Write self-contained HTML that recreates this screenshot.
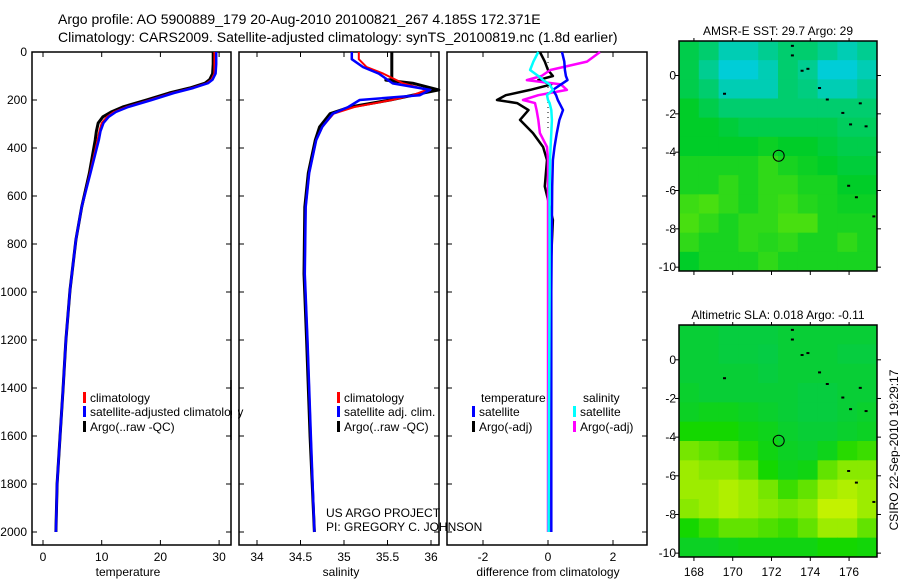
<!DOCTYPE html>
<html><head><meta charset="utf-8"><style>
body{margin:0;background:#fff;width:900px;height:580px;overflow:hidden}
svg text{font-family:"Liberation Sans",sans-serif;font-size:12px;fill:#000}
</style></head><body>
<svg id="s" width="900" height="580" xmlns="http://www.w3.org/2000/svg">
<text x="58" y="24" style="font-size:14px">Argo profile: AO 5900889_179 20-Aug-2010 20100821_267 4.185S 172.371E</text>
<text x="58" y="42" style="font-size:14px">Climatology: CARS2009. Satellite-adjusted climatology: synTS_20100819.nc (1.8d earlier)</text>
<g id="g"></g>
</svg>
<script>
// ---------- data ----------
const tDepth=[0,50,90,115,130,150,171,200,229,250,270,296,330,367,504,646,783,992,1200,1408,1604,1800,2000];
const tArgo=[29.0,29.0,28.9,28.4,27.6,25.0,21.5,17.6,13.6,11.6,10.2,9.4,9.1,8.9,7.9,6.6,5.6,4.6,3.9,3.4,2.9,2.4,2.2];
const tClim=[29.2,29.2,29.2,28.7,27.9,25.4,22.0,18.2,14.2,12.1,10.9,10.0,9.6,9.3,8.0,6.6,5.6,4.6,3.9,3.4,2.9,2.4,2.2];
const tSat=[29.5,29.5,29.4,28.9,28.1,25.6,22.3,18.5,14.5,12.4,11.2,10.3,9.8,9.5,8.1,6.6,5.6,4.6,3.9,3.4,2.9,2.4,2.2];
const sArgoDepth=[0,88,115,117,130,158,171,200,229,257,312,367,504,646,925,1200,1604,2000];
const sArgo=[35.55,35.55,35.55,35.48,35.79,36.09,35.91,35.53,35.07,34.84,34.72,34.67,34.59,34.55,34.54,34.57,34.61,34.66];
const sDepth=[0,30,63,90,131,158,180,200,229,257,312,367,504,646,925,1200,1604,2000];
const sClim=[35.17,35.17,35.26,35.45,35.68,35.95,35.79,35.55,35.12,34.88,34.75,34.68,34.60,34.56,34.55,34.58,34.62,34.66];
const sSat=[35.09,35.09,35.22,35.40,35.56,35.99,35.87,35.18,35.05,34.87,34.75,34.68,34.60,34.56,34.55,34.58,34.62,34.66];
const dDepth=[0,40,75,100,117,135,158,180,200,213,242,283,338,396,450,560,700,1000,1500,2000];
const dTArgo=[-0.25,-0.1,0,0.15,-0.3,0.1,-0.55,-1.3,-1.57,-0.95,-0.6,-0.86,-0.46,-0.15,-0.03,-0.1,0.15,0.05,0.03,0.02];
const dSArgo=[1.6,1.2,0.07,-0.2,-0.65,0.4,0.58,-0.3,-0.77,-0.4,-0.35,-0.3,-0.25,-0.03,0,0,0,0,0,0];
const dTSat=[0.43,0.5,0.52,0.55,0.6,0.4,0.15,0.25,0.3,0.35,0.46,0.35,0.27,0.2,0.15,0.13,0.12,0.1,0.1,0.1];
const dSSat=[-0.3,-0.45,-0.55,-0.3,-0.15,0.05,0.15,-0.03,0.0,0.05,0.1,0.12,0.1,0.08,0.06,0.05,0.05,0.05,0.03,0.02];
const depthTicks=[0,200,400,600,800,1000,1200,1400,1600,1800,2000];
const tTicks=[0,10,20,30];
const sTicks=[34,34.5,35,35.5,36];
const sTickLabels=["34","34.5","35","35.5","36"];
const dTicks=[-2,0,2];
const latTicks=[0,-2,-4,-6,-8,-10];
const lonTicks=[168,170,172,174,176];
const sstGrid=[
[.4,.3,.1,.1,.2,.3,.3,.2,.1,.2],
[.4,.2,.0,.0,.1,.3,.2,.0,.0,.1],
[.4,.3,.1,.1,.1,.3,.25,.1,.1,.2],
[.5,.4,.3,.3,.3,.3,.3,.3,.3,.3],
[.5,.5,.45,.4,.4,.4,.4,.4,.35,.35],
[.5,.5,.5,.5,.55,.5,.5,.45,.4,.4],
[.6,.6,.6,.6,.7,.6,.55,.5,.45,.45],
[.6,.6,.7,.6,.7,.7,.6,.6,.5,.5],
[.75,.8,.7,.6,.7,.75,.65,.6,.55,.55],
[.8,.7,.6,.7,.7,.8,.8,.6,.6,.6],
[.7,.6,.6,.7,.65,.7,.6,.6,.7,.6],
[.5,.6,.6,.6,.7,.6,.6,.6,.6,.6]];
const slaGrid=[
[.2,.2,.15,.15,.15,.2,.2,.2,.2,.2],
[.2,.2,.15,.15,.12,.2,.2,.2,.15,.15],
[.2,.2,.2,.2,.15,.2,.2,.2,.2,.2],
[.25,.2,.2,.2,.2,.2,.15,.15,.2,.2],
[.3,.35,.35,.3,.25,.2,.15,.15,.2,.25],
[.5,.5,.5,.4,.35,.25,.2,.2,.25,.3],
[.75,.7,.65,.55,.4,.3,.25,.35,.55,.6],
[.85,.8,.8,.7,.5,.35,.4,.7,.8,.8],
[.85,.85,.9,.85,.75,.6,.7,.85,.9,.85],
[.8,.85,.9,.85,.8,.75,.8,.95,.95,.85],
[.5,.6,.7,.7,.65,.6,.7,.85,.85,.7],
[.3,.3,.35,.4,.4,.4,.4,.5,.5,.45]];
// ---------- helpers ----------
const NS="http://www.w3.org/2000/svg";const G=document.getElementById('g');
function mk(t,a,p){const e=document.createElementNS(NS,t);for(const k in a)e.setAttribute(k,a[k]);(p||G).appendChild(e);return e;}
const yD=d=>52+d*0.24;
const xT=v=>43+v*5.87, xS=v=>257+(v-34)*87, xDf=v=>548+v*32.5;
function frame(x0,x1,name){const r=mk('rect',{x:x0,y:52,width:x1-x0,height:493,fill:'none',stroke:'#000','stroke-width':1.5});

}
function line(xs,ds,fx,col,w,name,dash){let p=xs.map((v,i)=>(i?'L':'M')+fx(v).toFixed(1)+' '+yD(ds[i]).toFixed(1)).join('');
const e=mk('path',{d:p,fill:'none',stroke:col,'stroke-width':w,'stroke-linejoin':'round'});if(dash)e.setAttribute('stroke-dasharray',dash);

}
function txt(x,y,s,name,anchor,extra){const e=mk('text',Object.assign({x:x,y:y,'text-anchor':anchor||'start'},extra||{}));e.textContent=s;

return e;}
function xticks(x0,x1,ticks,labels,fx,label,lx){ticks.forEach((t,i)=>{const x=fx(t);mk('line',{x1:x,x2:x,y1:52,y2:57,stroke:'#000'});mk('line',{x1:x,x2:x,y1:545,y2:540,stroke:'#000'});
txt(x,561,labels[i],'x-tick-label','middle');});txt(lx,576,label,'x-axis-title','middle');}
function yticks(x0,x1,lab){depthTicks.forEach(d=>{const y=yD(d);mk('line',{x1:x0,x2:x0+5,y1:y,y2:y,stroke:'#000'});mk('line',{x1:x1,x2:x1-5,y1:y,y2:y,stroke:'#000'});
if(lab)txt(27,y+4,String(d),'y-tick-label','end');});}
// ---------- panel 1 ----------
frame(32,231,'temperature-panel');yticks(32,231,true);
xticks(32,231,tTicks,tTicks.map(String),xT,'temperature',128);
line(tArgo,tDepth,xT,'#000',3,'temp-argo-line');
line(tClim,tDepth,xT,'#f00',2,'temp-climatology-line');
line(tSat,tDepth,xT,'#00f',2.5,'temp-satellite-line');
// ---------- panel 2 ----------
frame(239,439,'salinity-panel');yticks(239,439,false);
xticks(239,439,sTicks,sTickLabels,xS,'salinity',341);
line(sArgo,sArgoDepth,xS,'#000',3,'sal-argo-line');
line(sClim,sDepth,xS,'#f00',2,'sal-climatology-line');
line(sSat,sDepth,xS,'#00f',2.5,'sal-satellite-line');
// ---------- panel 3 ----------
frame(447,647,'difference-panel');yticks(447,647,false);
xticks(447,647,dTicks,dTicks.map(String),xDf,'difference from climatology',548);
mk('line',{x1:xDf(0),x2:xDf(0),y1:52,y2:yD(320),stroke:'#000','stroke-dasharray':'1 4'});
line(dTArgo,dDepth,xDf,'#000',2.5,'diff-temp-argo-line');
line(dSArgo,dDepth,xDf,'#f0f',2.5,'diff-sal-argo-line');
line(dTSat,dDepth,xDf,'#00f',2.5,'diff-temp-satellite-line');
line(dSSat,dDepth,xDf,'#0ff',2.5,'diff-sal-satellite-line');
// ---------- legends ----------
function leg(x,y,col,s,name){mk('rect',{x:x,y:y-10,width:3,height:11,fill:col});txt(x+7,y,s,name);}
leg(83,402,'#f00','climatology','legend-climatology');
leg(83,416,'#00f','satellite-adjusted climatology','legend-satellite');
leg(83,431,'#000','Argo(..raw -QC)','legend-argo');
G.appendChild(mk('rect',{x:232,y:380,width:6,height:60,fill:'#fff'}));
mk('line',{x1:231,x2:231,y1:380,y2:440,stroke:'#000','stroke-width':1.5});
leg(337,402,'#f00','climatology','legend2-climatology');
leg(337,416,'#00f','satellite adj. clim.','legend2-satellite');
leg(337,431,'#000','Argo(..raw -QC)','legend2-argo');
txt(481,402,'temperature','legend3-temperature-header');
txt(583,402,'salinity','legend3-salinity-header');
leg(472,416,'#00f','satellite','legend3-temp-satellite');
leg(472,431,'#000','Argo(-adj)','legend3-temp-argo');
leg(573,416,'#0ff','satellite','legend3-sal-satellite');
leg(573,431,'#f0f','Argo(-adj)','legend3-sal-argo');
txt(326,517,'US ARGO PROJECT','project-label');
txt(326,531,'PI: GREGORY C. JOHNSON','pi-label');
// ---------- maps ----------
const LON0=167.23,LON1=177.44,LAT0=1.8,LAT1=-10.2,MX0=679,MX1=877;
const xL=l=>MX0+(l-LON0)/(LON1-LON0)*(MX1-MX0);
function lerp(a,b,t){return a.map((v,i)=>Math.round(v+(b[i]-v)*t));}
function sstCol(v){return v<0.5?lerp([0,205,215],[0,205,40],v/0.5):lerp([0,205,40],[120,235,0],(v-0.5)/0.5);}
function slaCol(v){return v<0.5?lerp([0,200,90],[20,215,0],v/0.5):lerp([20,215,0],[215,245,0],(v-0.5)/0.5);}
function map(top,bot,grid,cf,title,name){
 const yL=l=>top+(LAT0-l)/(LAT0-LAT1)*(bot-top);
 const rows=grid.length,cols=grid[0].length,cw=(MX1-MX0)/cols,ch=(bot-top)/rows;
 grid.forEach((row,r)=>row.forEach((v,c)=>{const e=mk('rect',{x:MX0+c*cw,y:top+r*ch,width:cw+0.5,height:ch+0.5,fill:'rgb('+cf(v).join(',')+')'});
 
 }));
 const f=mk('rect',{x:MX0,y:top,width:MX1-MX0,height:bot-top,fill:'none',stroke:'#000','stroke-width':1.5});
 
 
 latTicks.forEach(l=>{const y=yL(l);mk('line',{x1:MX0,x2:MX0-4,y1:y,y2:y,stroke:'#000'});mk('line',{x1:MX1,x2:MX1+4,y1:y,y2:y,stroke:'#000'});txt(676,y+4,String(l),'lat-tick-label','end');});
 lonTicks.forEach(l=>{const x=xL(l);mk('line',{x1:x,x2:x,y1:bot,y2:bot+4,stroke:'#000'});mk('line',{x1:x,x2:x,y1:top,y2:top-3,stroke:'#000'});});
 [[173.0,1.6],[173.0,1.1],[173.5,0.3],[173.8,0.4],[174.4,-0.6],[174.8,-1.2],[175.6,-1.9],[176.0,-2.5],[176.5,-1.4],[169.5,-0.9],[176.8,-2.6],[175.9,-5.7],[176.3,-6.3],[177.2,-7.3]].forEach(p=>mk('rect',{x:xL(p[0]),y:yL(p[1]),width:3,height:2,fill:'#000'}));
 const c=mk('circle',{cx:xL(172.371),cy:yL(-4.185),r:5.5,fill:'none',stroke:'#000'});
 
 
 txt(778,top-6,title,name+'-title','middle');
}
map(41,271,sstGrid,sstCol,'AMSR-E SST: 29.7  Argo: 29','sst-map');
map(325,557,slaGrid,slaCol,'Altimetric SLA: 0.018  Argo: -0.11','sla-map');
lonTicks.forEach(l=>txt(xL(l),576,String(l),'lon-tick-label','middle'));
const ct=txt(0,0,'CSIRO 22-Sep-2010 19:29:17','csiro-timestamp','middle',{transform:'translate(898,450) rotate(-90)'});
</script>
</body></html>
